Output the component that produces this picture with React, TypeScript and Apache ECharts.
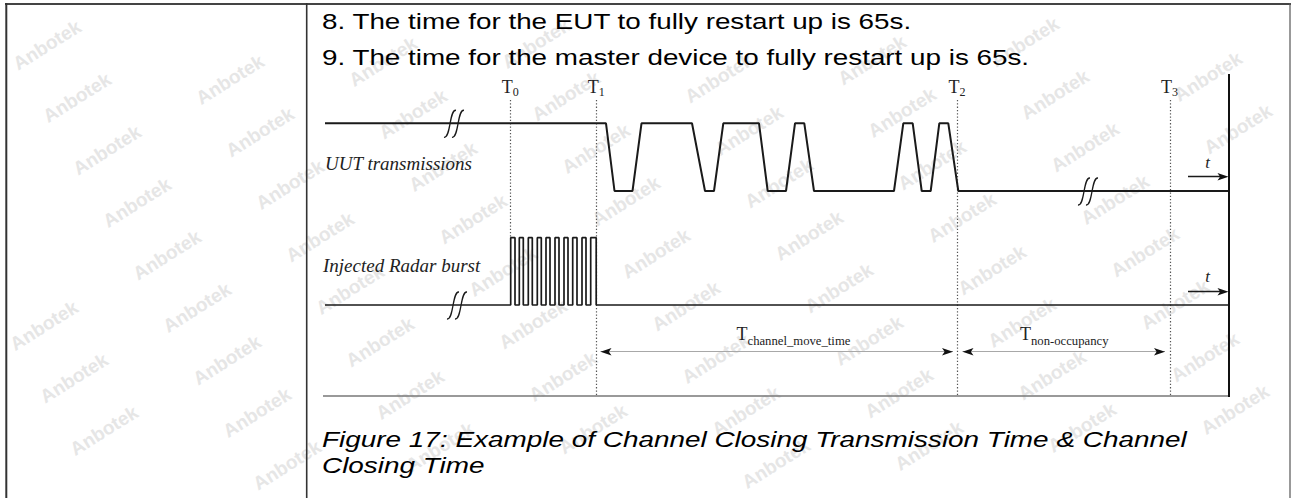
import React, { useEffect, useRef } from "react";
import * as echarts from "echarts";

const W = 1293;
const H = 498;

// ---------- texts ----------
const noteLines = [
  "8. The time for the EUT to fully restart up is 65s.",
  "9. The time for the master device to fully restart up is 65s.",
];
const captionLines = [
  "Figure 17: Example of Channel Closing Transmission Time & Channel",
  "Closing Time",
];
const waveLabels = ["UUT transmissions", "Injected Radar burst"];
const markerSubs = ["0", "1", "2", "3"];
const watermarkText = "Anbotek";

// ---------- data (time axis units) ----------
const markerTimes = [510.7, 596.7, 957.5, 1170];

// UUT transmissions: [time, level] (1 = on, 0 = off)
const uutWave: number[][] = [
  [325, 1], [606, 1], [614.5, 0], [632.5, 0], [641.5, 1],
  [692, 1], [705, 0], [714, 0], [723.3, 1],
  [759, 1], [767.7, 0], [786, 0], [795, 1],
  [804.3, 1], [814, 0], [894, 0], [903.3, 1],
  [912.7, 1], [921.7, 0], [930.7, 0], [939.3, 1],
  [948.3, 1], [958.3, 0], [1229, 0],
];

// Injected radar burst pulses
const radarStart = 325;
const radarEnd = 1229;
const pulseRise = [510.7, 519.3, 528.3, 537.3, 546, 555, 564, 572.7, 582, 590.7];
const pulseFall = [515, 523.3, 532.3, 541.3, 550, 559, 568, 577, 586, 596.2];

// break marks: [time, level]
const uutBreaks: number[][] = [[454, 1], [1088, 0]];
const radarBreaks: number[][] = [[457, 0]];

// time intervals
const intervalFrom = [600.5, 962.5];
const intervalTo = [953, 1165];
const intervalSubs = ["channel_move_time", "non-occupancy"];

export default function App() {
  const ref = useRef<HTMLDivElement>(null);

  useEffect(() => {
    document.body.style.margin = "0";
    if (!ref.current) return;
    const chart = echarts.init(ref.current, undefined, { renderer: "svg" });

    const radarWave: number[][] = [[radarStart, 0]];
    pulseRise.forEach((r, i) => {
      radarWave.push([r, 0], [r, 1], [pulseFall[i], 1], [pulseFall[i], 0]);
    });
    radarWave.push([radarEnd, 0]);

    const ink = "#1a1a1a";
    const sans = "'Liberation Sans', Arial, sans-serif";
    const serif = "'Liberation Serif', 'Times New Roman', serif";

    const breakRender = (_p: any, api: any) => {
      const c = api.coord([api.value(0), api.value(1)]);
      return {
        type: "group",
        children: [-4, 4].map((o) => ({
          type: "bezierCurve",
          shape: {
            x1: c[0] + o - 6, y1: c[1] + 14,
            cpx1: c[0] + o + 1, cpy1: c[1] + 15,
            cpx2: c[0] + o - 1, cpy2: c[1] - 14,
            x2: c[0] + o + 6, y2: c[1] - 13,
          },
          style: { stroke: ink, lineWidth: 1.3, fill: "none" },
        })),
      };
    };

    const DIM_Y = 351.7;
    const T_ARROW_Y = [176.7, 291.7];
    const rightHead = "path://M0,0L11,3.7L0,7.4L2.6,3.7Z";
    const leftHead = "path://M11,0L0,3.7L11,7.4L8.4,3.7Z";
    const heads: any[] = [];
    intervalFrom.forEach((f, i) => {
      heads.push({ value: [f, DIM_Y], symbol: leftHead, symbolOffset: [5.5, 0] });
      heads.push({ value: [intervalTo[i], DIM_Y], symbol: rightHead, symbolOffset: [-5.5, 0] });
    });
    T_ARROW_Y.forEach((y) => heads.push({ value: [1228.5, y], symbol: rightHead, symbolOffset: [-5.5, 0] }));

    // ---------- graphic ----------
    const graphics: any[] = [];
    // watermarks (kept fully inside the page)
    for (let a = -2; a < 12; a++) {
      for (let b = -4; b < 10; b++) {
        const cx = 47 + 30 * a + 153 * b;
        const cy = 45 + 52.5 * a - 18 * b;
        if (cx < 44 || cx > W - 44 || cy < 32 || cy > H - 30) continue;
        graphics.push({
          type: "text", x: cx, y: cy, rotation: 0.56, silent: true, z: 0,
          style: {
            text: watermarkText, fontSize: 19, fontWeight: "bold", fontFamily: sans,
            fill: "#e6e6e6", align: "center", verticalAlign: "middle",
            textAlign: "center", textVerticalAlign: "middle",
          },
        });
      }
    }
    const line = (x1: number, y1: number, x2: number, y2: number, stroke: string, lw: number) => ({
      type: "line", z: 50, silent: true,
      shape: { x1, y1, x2, y2 },
      style: { stroke, lineWidth: lw },
    });
    // table borders
    graphics.push(line(5, 4, 1291, 4, "#444", 2));
    graphics.push(line(6.3, 3, 6.3, H, "#333", 2));
    graphics.push(line(306.7, 3, 306.7, H, "#333", 1.6));
    graphics.push(line(1290, 3, 1290, H, "#555", 1.2));
    // diagram frame
    graphics.push(line(323, 396, 1229, 396, "#777", 1.3));
    graphics.push(line(1229, 74, 1229, 397, "#111", 2));

    const txt = (text: string, x: number, y: number, opts: any = {}) => ({
      type: "text", x, y, z: 100, silent: true, scaleX: opts.scaleX ?? 1,
      style: {
        text,
        fontSize: opts.fontSize ?? 21.4,
        fontFamily: opts.fontFamily ?? sans,
        fontStyle: opts.fontStyle ?? "normal",
        fill: opts.fill ?? "#000",
        align: opts.align ?? "left", textAlign: opts.align ?? "left",
        verticalAlign: "middle", textVerticalAlign: "middle",
      },
    });
    graphics.push(txt(noteLines[0], 322, 21.7, { scaleX: 1.3 }));
    graphics.push(txt(noteLines[1], 322, 57.5, { scaleX: 1.3 }));
    graphics.push(txt(captionLines[0], 322, 439.2, { scaleX: 1.305, fontStyle: "italic" }));
    graphics.push(txt(captionLines[1], 322, 465.3, { scaleX: 1.305, fontStyle: "italic" }));
    graphics.push(txt(waveLabels[0], 325, 163, { fontFamily: serif, fontStyle: "italic", fontSize: 19, fill: "#222" }));
    graphics.push(txt(waveLabels[1], 323, 265, { fontFamily: serif, fontStyle: "italic", fontSize: 19, fill: "#222" }));
    markerTimes.forEach((t, i) => {
      graphics.push(txt("T", t + 2, 87, { fontFamily: serif, fontSize: 18, align: "right", fill: "#222" }));
      graphics.push(txt(markerSubs[i], t + 2, 92, { fontFamily: serif, fontSize: 12, fill: "#222" }));
    });
    const tJoin = [747.5, 1031];
    tJoin.forEach((x, i) => {
      graphics.push(txt("T", x, 334, { fontFamily: serif, fontSize: 18, align: "right", fill: "#222" }));
      graphics.push(txt(intervalSubs[i], x, 341.3, { fontFamily: serif, fontSize: 12.7, fill: "#222" }));
    });
    graphics.push(txt("t", 1207.5, 162.3, { fontFamily: serif, fontStyle: "italic", fontSize: 17, align: "center", fill: "#222" }));
    graphics.push(txt("t", 1207.5, 276, { fontFamily: serif, fontStyle: "italic", fontSize: 17, align: "center", fill: "#222" }));

    chart.setOption({
      animation: false,
      backgroundColor: "#fff",
      grid: [
        { left: 0, top: 123.3, width: W, height: 67.7 },
        { left: 0, top: 237.7, width: W, height: 67.3 },
        { left: 0, top: 0, width: W, height: H },
      ],
      xAxis: [0, 1, 2].map((i) => ({ type: "value", gridIndex: i, min: 0, max: W, show: false })),
      yAxis: [
        { type: "value", gridIndex: 0, min: 0, max: 1, show: false },
        { type: "value", gridIndex: 1, min: 0, max: 1, show: false },
        { type: "value", gridIndex: 2, min: 0, max: H, inverse: true, show: false },
      ],
      graphic: graphics,
      series: [
        {
          type: "line", name: "UUT transmissions", xAxisIndex: 0, yAxisIndex: 0,
          data: uutWave, symbol: "none", clip: false,
          lineStyle: { color: ink, width: 2 },
        },
        {
          type: "line", name: "Injected Radar burst", xAxisIndex: 1, yAxisIndex: 1,
          data: radarWave, symbol: "none", clip: false,
          lineStyle: { color: ink, width: 1.7 },
        },
        {
          type: "custom", xAxisIndex: 0, yAxisIndex: 0, data: uutBreaks,
          renderItem: breakRender, clip: false, silent: true,
        },
        {
          type: "custom", xAxisIndex: 1, yAxisIndex: 1, data: radarBreaks,
          renderItem: breakRender, clip: false, silent: true,
        },
        {
          type: "lines", coordinateSystem: "cartesian2d", xAxisIndex: 2, yAxisIndex: 2,
          data: markerTimes.map((t, i) => ({ coords: [[t, 100], [t, i === 0 ? 237.7 : 396.5]] })),
          lineStyle: { color: "#555", width: 1.2, type: [1.3, 2], opacity: 1 },
          silent: true,
        },
        {
          type: "lines", coordinateSystem: "cartesian2d", xAxisIndex: 2, yAxisIndex: 2,
          data: intervalFrom.map((f, i) => ({ coords: [[f, DIM_Y], [intervalTo[i], DIM_Y]] })),
          lineStyle: { color: "#a8a8a8", width: 1.1, opacity: 1 },
          silent: true,
        },
        {
          type: "lines", coordinateSystem: "cartesian2d", xAxisIndex: 2, yAxisIndex: 2,
          data: T_ARROW_Y.map((y) => ({ coords: [[1188, y], [1222, y]] })),
          lineStyle: { color: ink, width: 1.3, opacity: 1 },
          silent: true,
        },
        {
          type: "scatter", xAxisIndex: 2, yAxisIndex: 2, data: heads,
          symbolSize: [11, 7.4], itemStyle: { color: "#111", opacity: 1 }, silent: true,
        },
      ],
    });
    return () => chart.dispose();
  }, []);

  return (
    <div
      ref={ref}
      style={{ position: "fixed", left: 0, top: 0, width: W, height: H, background: "#fff" }}
    />
  );
}
